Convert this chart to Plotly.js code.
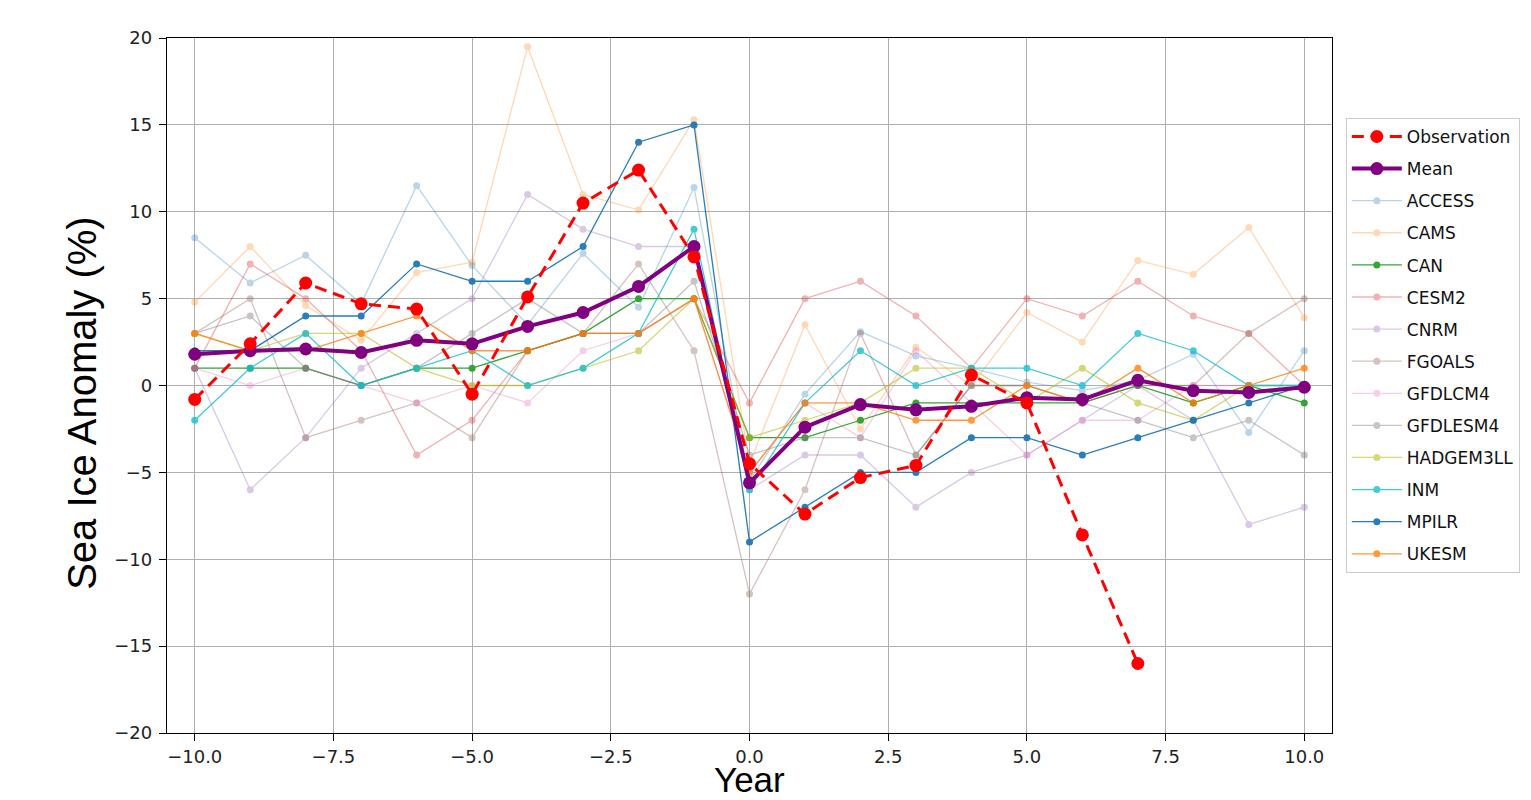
<!DOCTYPE html>
<html>
<head>
<meta charset="utf-8">
<script src="https://cdn.plot.ly/plotly-3.0.1.min.js"></script>
<style>
  html, body { margin: 0; padding: 0; background: #fff; }
  #chart { width: 1531px; height: 800px; }
</style>
</head>
<body>
<div id="chart"></div>
<script>
// ---- data ----
const years = [-10, -9, -8, -7, -6, -5, -4, -3, -2, -1, 0, 1, 2, 3, 4, 5, 6, 7, 8, 9, 10];
const obsYears = [-10, -9, -8, -7, -6, -5, -4, -3, -2, -1, 0, 1, 2, 3, 4, 5, 6, 7];
const observation = [-0.8, 2.4, 5.9, 4.7, 4.4, -0.5, 5.1, 10.5, 12.4, 7.4, -4.5, -7.4, -5.3, -4.6, 0.6, -1.0, -8.6, -16.0];
const meanSeries = [1.8, 2.0, 2.1, 1.9, 2.6, 2.4, 3.4, 4.2, 5.7, 8.0, -5.6, -2.4, -1.1, -1.4, -1.2, -0.7, -0.8, 0.3, -0.3, -0.4, -0.1];

const ACCESS    = [8.5, 5.9, 7.5, 4.7, 11.5, 6.9, 3.5, 7.6, 4.5, 11.4, -5.5, -0.5, 3.1, 1.7, 1.0, 0.2, -0.3, 0.3, 1.8, -2.7, 2.0];
const CAMS      = [4.8, 8.0, 4.6, 2.6, 6.5, 7.1, 19.5, 11.0, 10.1, 15.3, -4.5, 3.5, -2.5, 2.2, 0.0, 4.2, 2.5, 7.2, 6.4, 9.1, 3.9];
const CAN       = [1, 1, 1, 0, 1, 1, 2, 3, 5, 5, -3, -3, -2, -1, -1, -1, -1, 0, -1, 0, -1];
const CESM2     = [1, 7, 5, 2, -4, -2, 2, 3, 3, 5, -1, 5, 6, 4, 1, 5, 4, 6, 4, 3, 0];
const CNRM      = [1, -6, -3, 1, 3, 5, 11, 9, 8, 8, -6, -4, -4, -7, -5, -4, -2, 0, -2, -8, -7];
const FGOALS    = [3, 5, -3, -2, -1, -3, 2, 3, 7, 2, -12, -6, 3, -4, 0, 0, -1, 0, 0, 3, 5];
const GFDLCM4   = [1, 0, 1, 0, -1, 0, -1, 2, 3, 5, -5, -1, -3, 2, -1, -4, -2, -2, 0, 0, 0];
const GFDLESM4  = [3, 4, 1, 0, 1, 3, 5, 3, 3, 6, -4, -3, -3, -4, 0, 0, -1, -2, -3, -2, -4];
const HADGEM3LL = [3, 2, 3, 3, 1, 0, 0, 1, 2, 5, -3, -2, -1, 1, 1, -1, 1, -1, -2, 0, 0];
const INM       = [-2, 1, 3, 0, 1, 2, 0, 1, 3, 9, -6, -1, 2, 0, 1, 1, 0, 3, 2, 0, 0];
const MPILR     = [2, 2, 4, 4, 7, 6, 6, 8, 14, 15, -9, -7, -5, -5, -3, -3, -4, -3, -2, -1, 0];
const UKESM     = [3, 2, 2, 3, 4, 2, 2, 3, 3, 5, -5, -1, -1, -2, -2, 0, -1, 1, -1, 0, 1];

const modelNames = ["ACCESS", "CAMS", "CAN", "CESM2", "CNRM", "FGOALS", "GFDLCM4", "GFDLESM4", "HADGEM3LL", "INM", "MPILR", "UKESM"];
const modelValues = [ACCESS, CAMS, CAN, CESM2, CNRM, FGOALS, GFDLCM4, GFDLESM4, HADGEM3LL, INM, MPILR, UKESM];

const xTicks = [-10, -7.5, -5, -2.5, 0, 2.5, 5, 7.5, 10];
const yTicks = [-20, -15, -10, -5, 0, 5, 10, 15, 20];

// ---- styles ----
const modelColors = ["#1f77b4", "#ff7f0e", "#2ca02c", "#d62728", "#9467bd", "#8c564b", "#e377c2", "#7f7f7f", "#bcbd22", "#17becf", "#1f77b4", "#ff7f0e"];
const modelAlpha  = [0.3, 0.3, 0.95, 0.35, 0.35, 0.35, 0.35, 0.45, 0.6, 0.8, 0.95, 0.8];

const traces = [];
modelNames.forEach((name, i) => {
  traces.push({
    x: years, y: modelValues[i], name: name, type: "scatter", mode: "lines+markers",
    line: { color: modelColors[i], width: 1.3 },
    marker: { color: modelColors[i], size: 7 },
    opacity: modelAlpha[i],
    legendgroup: name, legendrank: 10 + i
  });
});
traces.push({
  x: years, y: meanSeries, name: "Mean", type: "scatter", mode: "lines+markers",
  line: { color: "#800080", width: 4 },
  marker: { color: "#800080", size: 13 },
  legendgroup: "Mean", legendrank: 2
});
traces.push({
  x: obsYears, y: observation, name: "Observation", type: "scatter", mode: "lines+markers",
  line: { color: "#ff0000", width: 3, dash: "12px,7px" },
  marker: { color: "#ff0000", size: 13 },
  legendgroup: "Observation", legendrank: 1
});

const axisCommon = {
  showline: true, linecolor: "#000", linewidth: 1.2, mirror: true,
  ticks: "outside", ticklen: 7, tickcolor: "#000", tickwidth: 1,
  showgrid: true, gridcolor: "#b0b0b0", gridwidth: 1.2, zeroline: false,
  tickfont: { family: "DejaVu Sans", size: 18, color: "#222" }
};

const layout = {
  width: 1531, height: 800,
  margin: { l: 167, r: 198, t: 38, b: 67 },
  paper_bgcolor: "#fff", plot_bgcolor: "#fff",
  showlegend: true,
  xaxis: Object.assign({}, axisCommon, {
    range: [-10.5, 10.5], tickvals: xTicks, tickformat: ".1f"
  }),
  yaxis: Object.assign({}, axisCommon, {
    range: [-20, 20], tickvals: yTicks, ticklabelstandoff: 3
  }),
  annotations: [
    { text: "Year", xref: "paper", yref: "paper", x: 0.5, y: -0.0964, xanchor: "center", yanchor: "bottom",
      showarrow: false, borderpad: 0, font: { family: "Liberation Sans", size: 35, color: "#000" } },
    { text: "Sea Ice Anomaly (%)", xref: "paper", yref: "paper", x: -0.073, y: 0.475, xanchor: "center", yanchor: "middle",
      textangle: -90, showarrow: false, font: { family: "Liberation Sans", size: 40, color: "#000" } }
  ],
  legend: {
    x: 1.011, y: 0.885, xanchor: "left", yanchor: "top",
    bgcolor: "#fff", bordercolor: "#cccccc", borderwidth: 1,
    font: { family: "DejaVu Sans", size: 17, color: "#111" },
    traceorder: "grouped", tracegroupgap: 7, itemwidth: 50
  }
};

Plotly.newPlot("chart", traces, layout, { displayModeBar: false, staticPlot: true });
</script>
</body>
</html>
